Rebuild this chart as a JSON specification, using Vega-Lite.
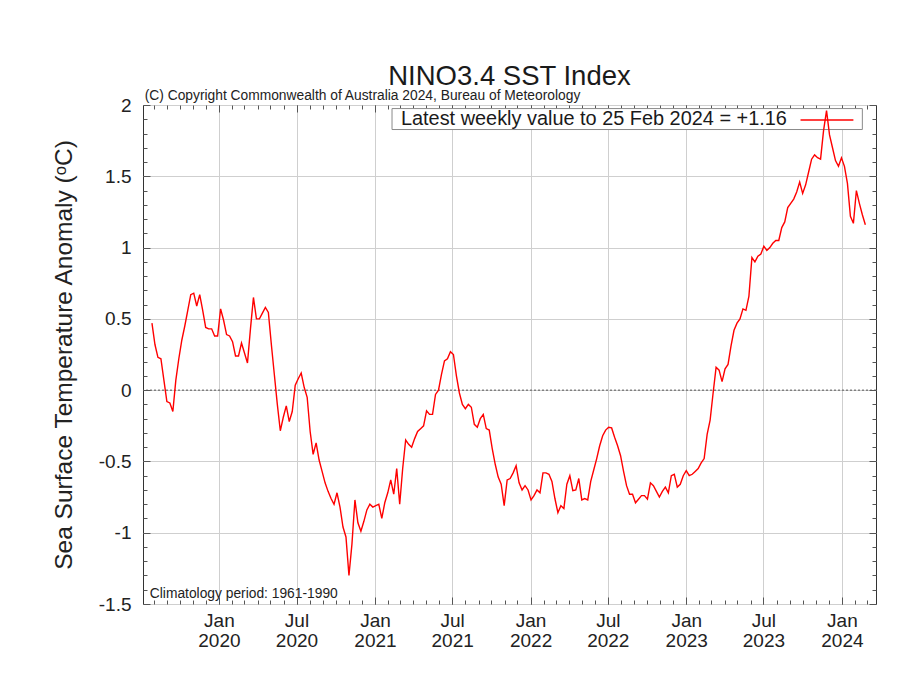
{
  "$schema": "https://vega.github.io/schema/vega-lite/v6.json",
  "width": 733,
  "height": 499,
  "autosize": "none",
  "padding": {"left": 143, "top": 105, "right": 25, "bottom": 73},
  "background": "white",
  "title": {"text": "NINO3.4 SST Index", "fontSize": 27.5, "fontWeight": "normal", "font": "Liberation Sans", "color": "#1a1a1a", "offset": -1},
  "config": {
    "view": {"stroke": "#333", "strokeWidth": 1},
    "font": "Liberation Sans",
    "axis": {"labelFont": "Liberation Sans", "titleFont": "Liberation Sans"}
  },
  "resolve": {"axis": {"x": "independent", "y": "independent"}},
  "data": {"values": [
    {"date": "2019-07-28", "v": 0.47}, {"date": "2019-08-04", "v": 0.32}, {"date": "2019-08-11", "v": 0.23}, {"date": "2019-08-18", "v": 0.22},
    {"date": "2019-08-25", "v": 0.07}, {"date": "2019-09-01", "v": -0.08}, {"date": "2019-09-08", "v": -0.09}, {"date": "2019-09-15", "v": -0.15},
    {"date": "2019-09-22", "v": 0.07}, {"date": "2019-09-29", "v": 0.22}, {"date": "2019-10-06", "v": 0.35}, {"date": "2019-10-13", "v": 0.45},
    {"date": "2019-10-20", "v": 0.56}, {"date": "2019-10-27", "v": 0.67}, {"date": "2019-11-03", "v": 0.68}, {"date": "2019-11-10", "v": 0.59},
    {"date": "2019-11-17", "v": 0.67}, {"date": "2019-11-24", "v": 0.56}, {"date": "2019-12-01", "v": 0.44}, {"date": "2019-12-08", "v": 0.43},
    {"date": "2019-12-15", "v": 0.43}, {"date": "2019-12-22", "v": 0.38}, {"date": "2019-12-29", "v": 0.38}, {"date": "2020-01-05", "v": 0.57},
    {"date": "2020-01-12", "v": 0.49}, {"date": "2020-01-19", "v": 0.39}, {"date": "2020-01-26", "v": 0.38}, {"date": "2020-02-02", "v": 0.34},
    {"date": "2020-02-09", "v": 0.24}, {"date": "2020-02-16", "v": 0.24}, {"date": "2020-02-23", "v": 0.33}, {"date": "2020-03-01", "v": 0.26},
    {"date": "2020-03-08", "v": 0.19}, {"date": "2020-03-15", "v": 0.43}, {"date": "2020-03-22", "v": 0.65}, {"date": "2020-03-29", "v": 0.50},
    {"date": "2020-04-05", "v": 0.50}, {"date": "2020-04-12", "v": 0.54}, {"date": "2020-04-19", "v": 0.58}, {"date": "2020-04-26", "v": 0.545},
    {"date": "2020-05-03", "v": 0.32}, {"date": "2020-05-10", "v": 0.11}, {"date": "2020-05-17", "v": -0.10}, {"date": "2020-05-24", "v": -0.285},
    {"date": "2020-05-31", "v": -0.19}, {"date": "2020-06-07", "v": -0.11}, {"date": "2020-06-14", "v": -0.22}, {"date": "2020-06-21", "v": -0.15},
    {"date": "2020-06-28", "v": 0.035}, {"date": "2020-07-05", "v": 0.08}, {"date": "2020-07-12", "v": 0.12}, {"date": "2020-07-19", "v": 0.02},
    {"date": "2020-07-26", "v": -0.05}, {"date": "2020-08-02", "v": -0.29}, {"date": "2020-08-09", "v": -0.45}, {"date": "2020-08-16", "v": -0.37},
    {"date": "2020-08-23", "v": -0.49}, {"date": "2020-08-30", "v": -0.57}, {"date": "2020-09-06", "v": -0.65}, {"date": "2020-09-13", "v": -0.71},
    {"date": "2020-09-20", "v": -0.76}, {"date": "2020-09-27", "v": -0.80}, {"date": "2020-10-04", "v": -0.72}, {"date": "2020-10-11", "v": -0.82},
    {"date": "2020-10-18", "v": -0.96}, {"date": "2020-10-25", "v": -1.03}, {"date": "2020-11-01", "v": -1.30}, {"date": "2020-11-08", "v": -1.08},
    {"date": "2020-11-15", "v": -0.77}, {"date": "2020-11-22", "v": -0.93}, {"date": "2020-11-29", "v": -0.99}, {"date": "2020-12-06", "v": -0.92},
    {"date": "2020-12-13", "v": -0.84}, {"date": "2020-12-20", "v": -0.80}, {"date": "2020-12-27", "v": -0.82}, {"date": "2021-01-03", "v": -0.81},
    {"date": "2021-01-10", "v": -0.80}, {"date": "2021-01-17", "v": -0.90}, {"date": "2021-01-24", "v": -0.79}, {"date": "2021-01-31", "v": -0.72},
    {"date": "2021-02-07", "v": -0.63}, {"date": "2021-02-14", "v": -0.73}, {"date": "2021-02-21", "v": -0.55}, {"date": "2021-02-28", "v": -0.80},
    {"date": "2021-03-07", "v": -0.55}, {"date": "2021-03-14", "v": -0.35}, {"date": "2021-03-21", "v": -0.38}, {"date": "2021-03-28", "v": -0.40},
    {"date": "2021-04-04", "v": -0.34}, {"date": "2021-04-11", "v": -0.29}, {"date": "2021-04-18", "v": -0.27}, {"date": "2021-04-25", "v": -0.25},
    {"date": "2021-05-02", "v": -0.145}, {"date": "2021-05-09", "v": -0.17}, {"date": "2021-05-16", "v": -0.17}, {"date": "2021-05-23", "v": -0.03},
    {"date": "2021-05-30", "v": 0.00}, {"date": "2021-06-06", "v": 0.11}, {"date": "2021-06-13", "v": 0.205}, {"date": "2021-06-20", "v": 0.22},
    {"date": "2021-06-27", "v": 0.27}, {"date": "2021-07-04", "v": 0.25}, {"date": "2021-07-11", "v": 0.10}, {"date": "2021-07-18", "v": -0.02},
    {"date": "2021-07-25", "v": -0.10}, {"date": "2021-08-01", "v": -0.13}, {"date": "2021-08-08", "v": -0.10}, {"date": "2021-08-15", "v": -0.12},
    {"date": "2021-08-22", "v": -0.24}, {"date": "2021-08-29", "v": -0.26}, {"date": "2021-09-05", "v": -0.20}, {"date": "2021-09-12", "v": -0.17},
    {"date": "2021-09-19", "v": -0.27}, {"date": "2021-09-26", "v": -0.28}, {"date": "2021-10-03", "v": -0.41}, {"date": "2021-10-10", "v": -0.52},
    {"date": "2021-10-17", "v": -0.61}, {"date": "2021-10-24", "v": -0.66}, {"date": "2021-10-31", "v": -0.81}, {"date": "2021-11-07", "v": -0.63},
    {"date": "2021-11-14", "v": -0.62}, {"date": "2021-11-21", "v": -0.58}, {"date": "2021-11-28", "v": -0.53}, {"date": "2021-12-05", "v": -0.65},
    {"date": "2021-12-12", "v": -0.70}, {"date": "2021-12-19", "v": -0.67}, {"date": "2021-12-26", "v": -0.70}, {"date": "2022-01-02", "v": -0.77},
    {"date": "2022-01-09", "v": -0.74}, {"date": "2022-01-16", "v": -0.70}, {"date": "2022-01-23", "v": -0.72}, {"date": "2022-01-30", "v": -0.58},
    {"date": "2022-02-06", "v": -0.58}, {"date": "2022-02-13", "v": -0.59}, {"date": "2022-02-20", "v": -0.64}, {"date": "2022-02-27", "v": -0.76},
    {"date": "2022-03-06", "v": -0.86}, {"date": "2022-03-13", "v": -0.81}, {"date": "2022-03-20", "v": -0.83}, {"date": "2022-03-27", "v": -0.66},
    {"date": "2022-04-03", "v": -0.60}, {"date": "2022-04-10", "v": -0.705}, {"date": "2022-04-17", "v": -0.70}, {"date": "2022-04-24", "v": -0.62},
    {"date": "2022-05-01", "v": -0.77}, {"date": "2022-05-08", "v": -0.76}, {"date": "2022-05-15", "v": -0.77}, {"date": "2022-05-22", "v": -0.64},
    {"date": "2022-05-29", "v": -0.56}, {"date": "2022-06-05", "v": -0.48}, {"date": "2022-06-12", "v": -0.39}, {"date": "2022-06-19", "v": -0.32},
    {"date": "2022-06-26", "v": -0.28}, {"date": "2022-07-03", "v": -0.26}, {"date": "2022-07-10", "v": -0.265}, {"date": "2022-07-17", "v": -0.33},
    {"date": "2022-07-24", "v": -0.39}, {"date": "2022-07-31", "v": -0.46}, {"date": "2022-08-07", "v": -0.57}, {"date": "2022-08-14", "v": -0.67},
    {"date": "2022-08-21", "v": -0.73}, {"date": "2022-08-28", "v": -0.73}, {"date": "2022-09-04", "v": -0.79}, {"date": "2022-09-11", "v": -0.765},
    {"date": "2022-09-18", "v": -0.74}, {"date": "2022-09-25", "v": -0.74}, {"date": "2022-10-02", "v": -0.765}, {"date": "2022-10-09", "v": -0.65},
    {"date": "2022-10-16", "v": -0.67}, {"date": "2022-10-23", "v": -0.71}, {"date": "2022-10-30", "v": -0.75}, {"date": "2022-11-06", "v": -0.71},
    {"date": "2022-11-13", "v": -0.68}, {"date": "2022-11-20", "v": -0.72}, {"date": "2022-11-27", "v": -0.60}, {"date": "2022-12-04", "v": -0.59},
    {"date": "2022-12-11", "v": -0.68}, {"date": "2022-12-18", "v": -0.66}, {"date": "2022-12-25", "v": -0.60}, {"date": "2023-01-01", "v": -0.565},
    {"date": "2023-01-08", "v": -0.60}, {"date": "2023-01-15", "v": -0.59}, {"date": "2023-01-22", "v": -0.57}, {"date": "2023-01-29", "v": -0.55},
    {"date": "2023-02-05", "v": -0.51}, {"date": "2023-02-12", "v": -0.48}, {"date": "2023-02-19", "v": -0.31}, {"date": "2023-02-26", "v": -0.21},
    {"date": "2023-03-05", "v": -0.02}, {"date": "2023-03-12", "v": 0.16}, {"date": "2023-03-19", "v": 0.14}, {"date": "2023-03-26", "v": 0.06},
    {"date": "2023-04-02", "v": 0.15}, {"date": "2023-04-09", "v": 0.18}, {"date": "2023-04-16", "v": 0.31}, {"date": "2023-04-23", "v": 0.42},
    {"date": "2023-04-30", "v": 0.47}, {"date": "2023-05-07", "v": 0.50}, {"date": "2023-05-14", "v": 0.57}, {"date": "2023-05-21", "v": 0.56},
    {"date": "2023-05-28", "v": 0.66}, {"date": "2023-06-04", "v": 0.93}, {"date": "2023-06-11", "v": 0.90}, {"date": "2023-06-18", "v": 0.94},
    {"date": "2023-06-25", "v": 0.955}, {"date": "2023-07-02", "v": 1.01}, {"date": "2023-07-09", "v": 0.98}, {"date": "2023-07-16", "v": 1.00},
    {"date": "2023-07-23", "v": 1.03}, {"date": "2023-07-30", "v": 1.05}, {"date": "2023-08-06", "v": 1.05}, {"date": "2023-08-13", "v": 1.14},
    {"date": "2023-08-20", "v": 1.18}, {"date": "2023-08-27", "v": 1.28}, {"date": "2023-09-03", "v": 1.31}, {"date": "2023-09-10", "v": 1.34},
    {"date": "2023-09-17", "v": 1.39}, {"date": "2023-09-24", "v": 1.46}, {"date": "2023-10-01", "v": 1.38}, {"date": "2023-10-08", "v": 1.44},
    {"date": "2023-10-15", "v": 1.53}, {"date": "2023-10-22", "v": 1.62}, {"date": "2023-10-29", "v": 1.65}, {"date": "2023-11-05", "v": 1.63},
    {"date": "2023-11-12", "v": 1.62}, {"date": "2023-11-19", "v": 1.82}, {"date": "2023-11-26", "v": 1.96}, {"date": "2023-12-03", "v": 1.79},
    {"date": "2023-12-10", "v": 1.70}, {"date": "2023-12-17", "v": 1.61}, {"date": "2023-12-24", "v": 1.57}, {"date": "2023-12-31", "v": 1.63},
    {"date": "2024-01-07", "v": 1.57}, {"date": "2024-01-14", "v": 1.45}, {"date": "2024-01-21", "v": 1.22}, {"date": "2024-01-28", "v": 1.17},
    {"date": "2024-02-04", "v": 1.40}, {"date": "2024-02-11", "v": 1.31}, {"date": "2024-02-18", "v": 1.23}, {"date": "2024-02-25", "v": 1.16}
  ]},
  "layer": [
    {
      "data": {"values": [{}]},
      "mark": {"type": "rect", "fill": "white", "stroke": "#8a8a8a", "strokeWidth": 1},
      "encoding": {
        "x": {"datum": {"year": 2021, "month": 2, "date": 10}, "type": "temporal",
          "axis": {"orient": "top", "offset": -7, "tickSize": 7, "labels": false, "grid": false, "domain": false, "title": null, "ticks": true, "tickColor": "#555", "tickWidth": 1,
            "values": [{"year": 2020, "month": 1, "date": 1}, {"year": 2020, "month": 7, "date": 1}, {"year": 2021, "month": 1, "date": 1}, {"year": 2021, "month": 7, "date": 1}, {"year": 2022, "month": 1, "date": 1}, {"year": 2022, "month": 7, "date": 1}, {"year": 2023, "month": 1, "date": 1}, {"year": 2023, "month": 7, "date": 1}, {"year": 2024, "month": 1, "date": 1}]}},
        "x2": {"datum": {"year": 2024, "month": 2, "date": 18}},
        "y": {"datum": 1.975, "type": "quantitative",
          "axis": {"orient": "right", "offset": -7, "tickSize": 7, "values": [-1.5, -1, -0.5, 0, 0.5, 1, 1.5, 2],
            "labels": false, "grid": false, "domain": false, "title": null, "ticks": true, "tickColor": "#555", "tickWidth": 1}},
        "y2": {"datum": 1.828}
      }
    },
    {
      "data": {"values": [{}]},
      "mark": {"type": "rule", "color": "#555", "strokeWidth": 1, "strokeDash": [2, 2]},
      "encoding": {"y": {"datum": 0, "type": "quantitative", "axis": null}}
    },
    {
      "mark": {"type": "line", "color": "#ff0000", "strokeWidth": 1.4},
      "encoding": {
        "x": {"field": "date", "type": "temporal",
          "scale": {"domain": [{"year": 2019, "month": 7, "date": 7}, {"year": 2024, "month": 3, "date": 21}], "nice": false},
          "axis": {"orient": "bottom", "tickCount": {"interval": "month", "step": 1}, "title": null, "domain": false,
            "labelExpr": "month(datum.value) % 6 == 0 ? [timeFormat(datum.value, '%b'), timeFormat(datum.value, '%Y')] : ''",
            "labelFontSize": 19, "labelColor": "#222", "labelLineHeight": 20, "labelPadding": 15,
            "labelOverlap": false, "labelFlush": false, "labelBound": false,
            "grid": true, "gridColor": "#cfcfcf", "gridWidth": 1,
            "gridOpacity": {"condition": {"test": "month(datum.value) % 6 == 0", "value": 1}, "value": 0},
            "ticks": true, "tickOpacity": 0,
            "tickSize": {"condition": {"test": "month(datum.value) % 6 == 0", "value": -8}, "value": -4}}},
        "y": {"field": "v", "type": "quantitative",
          "scale": {"domain": [-1.5, 2], "nice": false, "zero": false},
          "axis": {"orient": "left", "values": [-1.5,-1.4,-1.3,-1.2,-1.1,-1,-0.9,-0.8,-0.7,-0.6,-0.5,-0.4,-0.3,-0.2,-0.1,0,0.1,0.2,0.3,0.4,0.5,0.6,0.7,0.8,0.9,1,1.1,1.2,1.3,1.4,1.5,1.6,1.7,1.8,1.9,2],
            "domain": false,
            "labelExpr": "abs(datum.value*2 - round(datum.value*2)) < 0.01 ? '' + datum.value : ''",
            "labelFontSize": 19, "labelColor": "#222", "labelPadding": 20, "labelOverlap": false, "labelFlush": false, "labelBound": false,
            "grid": true, "gridColor": "#cfcfcf", "gridWidth": 1,
            "gridOpacity": {"condition": {"test": "abs(datum.value*2 - round(datum.value*2)) < 0.01", "value": 1}, "value": 0},
            "ticks": true, "tickOpacity": 0,
            "tickSize": {"condition": {"test": "abs(datum.value*2 - round(datum.value*2)) < 0.01", "value": -8}, "value": -4},
            "title": "Sea Surface Temperature Anomaly (ᵒC)", "titleFontSize": 24.5, "titleFontWeight": "normal", "titleColor": "#222", "titlePadding": 22}}
      }
    },
    {
      "data": {"values": [{}]},
      "mark": {"type": "rule", "color": "#ff0000", "strokeWidth": 1.4},
      "encoding": {
        "x": {"datum": {"year": 2023, "month": 9, "date": 26}, "type": "temporal",
          "axis": {"orient": "bottom", "offset": -7, "tickSize": 7, "labels": false, "grid": false, "domain": false, "title": null, "ticks": true, "tickColor": "#555", "tickWidth": 1,
            "values": [{"year": 2020, "month": 1, "date": 1}, {"year": 2020, "month": 7, "date": 1}, {"year": 2021, "month": 1, "date": 1}, {"year": 2021, "month": 7, "date": 1}, {"year": 2022, "month": 1, "date": 1}, {"year": 2022, "month": 7, "date": 1}, {"year": 2023, "month": 1, "date": 1}, {"year": 2023, "month": 7, "date": 1}, {"year": 2024, "month": 1, "date": 1}]}},
        "x2": {"datum": {"year": 2024, "month": 1, "date": 28}},
        "y": {"datum": 1.895, "type": "quantitative",
          "axis": {"orient": "left", "offset": -7, "tickSize": 7, "values": [-1.5, -1, -0.5, 0, 0.5, 1, 1.5, 2],
            "labels": false, "grid": false, "domain": false, "title": null, "ticks": true, "tickColor": "#555", "tickWidth": 1}}
      }
    },
    {
      "data": {"values": [{"t": "Latest weekly value to 25 Feb 2024 = +1.16"}]},
      "mark": {"type": "text", "align": "right", "baseline": "middle", "fontSize": 19.9, "color": "#1a1a1a", "font": "Liberation Sans"},
      "encoding": {
        "x": {"datum": {"year": 2023, "month": 8, "date": 25}, "type": "temporal",
          "axis": {"orient": "bottom", "offset": -4, "tickSize": 4, "tickCount": {"interval": "month", "step": 1}, "labels": false, "grid": false, "domain": false, "title": null, "ticks": true, "tickColor": "#555", "tickWidth": 1}},
        "y": {"datum": 1.9, "type": "quantitative",
          "axis": {"orient": "left", "offset": -4, "tickSize": 4, "values": [-1.5,-1.4,-1.3,-1.2,-1.1,-1,-0.9,-0.8,-0.7,-0.6,-0.5,-0.4,-0.3,-0.2,-0.1,0,0.1,0.2,0.3,0.4,0.5,0.6,0.7,0.8,0.9,1,1.1,1.2,1.3,1.4,1.5,1.6,1.7,1.8,1.9,2],
            "labels": false, "grid": false, "domain": false, "title": null, "ticks": true, "tickColor": "#555", "tickWidth": 1}},
        "text": {"field": "t"}
      }
    },
    {
      "data": {"values": [{"t": "(C) Copyright Commonwealth of Australia 2024, Bureau of Meteorology"}]},
      "mark": {"type": "text", "align": "left", "baseline": "alphabetic", "dy": -5, "fontSize": 13.8, "color": "#222", "font": "Liberation Sans"},
      "encoding": {
        "x": {"datum": {"year": 2019, "month": 7, "date": 11}, "type": "temporal",
          "axis": {"orient": "top", "offset": -4, "tickSize": 4, "tickCount": {"interval": "month", "step": 1}, "labels": false, "grid": false, "domain": false, "title": null, "ticks": true, "tickColor": "#555", "tickWidth": 1}},
        "y": {"datum": 2, "type": "quantitative",
          "axis": {"orient": "right", "offset": -4, "tickSize": 4, "values": [-1.5,-1.4,-1.3,-1.2,-1.1,-1,-0.9,-0.8,-0.7,-0.6,-0.5,-0.4,-0.3,-0.2,-0.1,0,0.1,0.2,0.3,0.4,0.5,0.6,0.7,0.8,0.9,1,1.1,1.2,1.3,1.4,1.5,1.6,1.7,1.8,1.9,2],
            "labels": false, "grid": false, "domain": false, "title": null, "ticks": true, "tickColor": "#555", "tickWidth": 1}},
        "text": {"field": "t"}
      }
    },
    {
      "data": {"values": [{"t": "Climatology period: 1961-1990"}]},
      "mark": {"type": "text", "align": "left", "baseline": "alphabetic", "dy": -6, "fontSize": 13.8, "color": "#222", "font": "Liberation Sans"},
      "encoding": {
        "x": {"datum": {"year": 2019, "month": 7, "date": 23}, "type": "temporal", "axis": null},
        "y": {"datum": -1.5, "type": "quantitative", "axis": null},
        "text": {"field": "t"}
      }
    }
  ]
}
